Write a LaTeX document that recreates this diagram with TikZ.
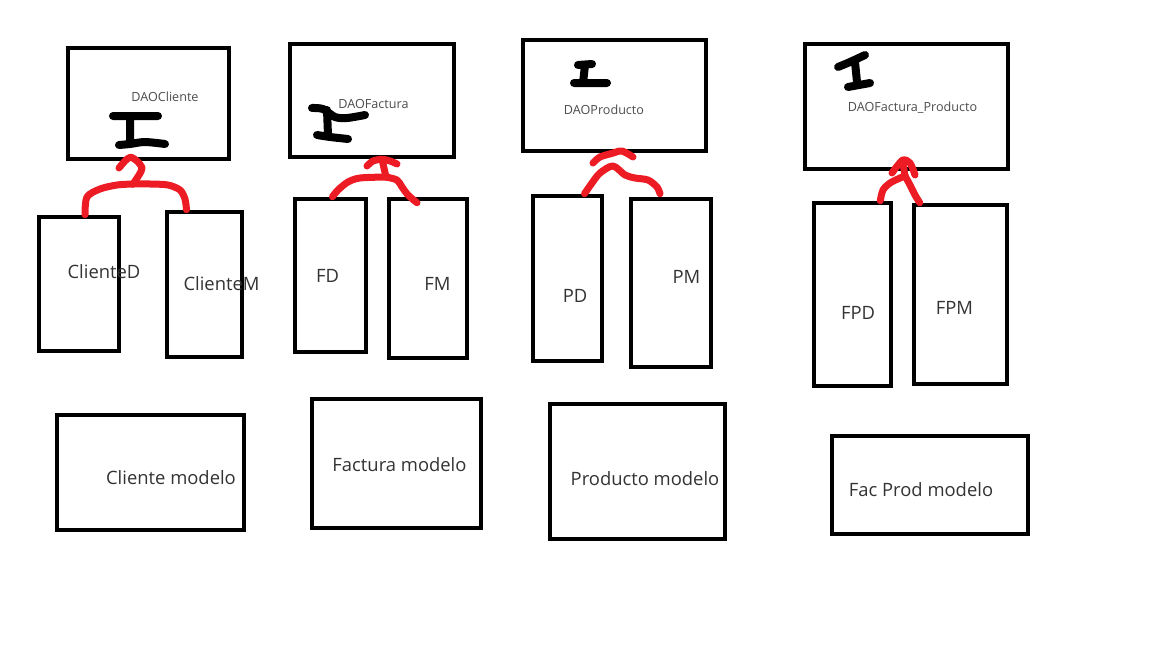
\documentclass[tikz,border=0pt]{standalone}
\usepackage{fontspec}
\setmainfont{Open Sans}
\usetikzlibrary{fit}
\definecolor{paintred}{HTML}{ED1C24}
\begin{document}
\begin{tikzpicture}[x=1pt,y=-1pt,
  box/.style={draw,line width=4.5pt,inner sep=0pt},
  big/.style={anchor=base,text=black!80,font=\fontsize{18.4}{22}\selectfont},
  small/.style={anchor=base,text=black!70,font=\fontsize{12.6}{15}\selectfont},
  scribble/.style={draw=paintred,line width=7pt,line cap=round,line join=round},
  ibar/.style={draw,line width=8pt,line cap=round,line join=round}]
\useasboundingbox (0,0) rectangle (1152,648);
% boxes: DAO row, D/M row, modelo row
\foreach \n/\x/\y/\X/\Y in {daoC/68/48/229/159, daoF/290/44/454/157, daoP/523/40/706/151, daoFP/805/44/1008/169,
  cliD/39/217/119/351, cliM/167/212/242/357, fd/295/199/366/352, fm/389/199/467/358,
  pd/533/196/602/361, pm/631/199/711/367, fpd/814/203/891/386, fpm/914/205/1007/384,
  modC/57/415/244/530, modF/312/399/481/528, modP/550/404/725/539, modFP/832/436/1028/534}
  \node[box,fit={(\x,\y) (\X,\Y)}] (\n) {};
\foreach \n/\x/\y/\t in {daoCl/165/101.5/DAOCliente, daoFl/373.5/108.5/DAOFactura,
  daoPl/604/114.5/DAOProducto, daoFPl/912.5/111.5/DAOFactura\_Producto}
  \node[small] (\n) at (\x,\y) {\t};
\foreach \n/\x/\y/\t in {cliDl/104/278/ClienteD, cliMl/221.5/290/ClienteM, fdl/327.5/282/FD, fml/437.5/290/FM,
  pdl/575/302/PD, pml/686.5/283/PM, fpdl/858/319/FPD, fpml/954.5/314/FPM,
  modCl/171/484/Cliente modelo, modFl/399.5/471/Factura modelo, modPl/645/485/Producto modelo, modFPl/921/496/Fac Prod modelo}
  \node[big] (\n) at (\x,\y) {\t};
% the I marks
\draw[ibar] (113,116) -- (158,116) (130,117) -- (130,144) plot[smooth] coordinates {(119,145) (130,144) (145,142) (165,144)};
\draw[ibar] plot[smooth] coordinates {(312,108) (323,109) (335,117) (347,118) (365,115)} (327,110) -- (328,135)
  plot[smooth] coordinates {(317,135) (330,137) (348,139)};
\draw[ibar] (578,65) -- (592,64) (585,65) -- (583,83) (574,83) -- (607,83);
\draw[ibar] plot[smooth] coordinates {(838,67) (850,62) (865,55)} (855,62) -- (857,82) (848,87) -- (870,83);
% cliente
\coordinate (jC) at (133,184);
\draw[scribble] plot[smooth] coordinates {([xshift=6pt]cliD.north) (87,197) (100,189) (117,185) (jC)};
\draw[scribble] plot[smooth] coordinates {(jC) (150,184) (168,185) (180,190) (185,199) ([xshift=-18pt]cliM.north)};
\draw[scribble] plot[smooth] coordinates {(jC) (139,175) (142,168) (137,161) ([xshift=-18pt,yshift=4pt]daoC.south) (125,161) (119,168)};
% factura
\coordinate (jF) at (386,177);
\draw[scribble] plot[smooth] coordinates {([xshift=2pt]fd.north) (338,190) (348,182) (360,178) (jF)};
\draw[scribble] plot[smooth] coordinates {(jF) (397,180) (402,187) (408,195) ([xshift=-11pt,yshift=-6pt]fm.north)};
\draw[scribble] (jF) -- ([xshift=10pt]daoF.south);
\draw[scribble] plot[smooth] coordinates {(367,166) (373,161) ([xshift=10pt]daoF.south) (390,161) (397,164)};
% producto
\coordinate (jP) at (613,166);
\draw[scribble] plot[smooth] coordinates {([xshift=17pt]pd.north) (592,183) (600,173) (jP) (625,175) (635,178) (648,180) (657,187) ([xshift=-11pt,yshift=3pt]pm.north)};
\draw[scribble] plot[smooth] coordinates {(593,163) (600,157) ([xshift=-2pt]daoP.south) (622,151) (633,157)};
% fac prod
\coordinate (jFP) at (905,176);
\draw[scribble] plot[smooth] coordinates {([xshift=-13pt]fpd.north east) (883,190) (890,183) (900,178) (jFP)};
\draw[scribble] plot[smooth] coordinates {(jFP) (910,185) (915,195) ([xshift=8pt]fpm.north west)};
\draw[scribble] (jFP) -- ([xshift=-4pt,yshift=11pt]daoFP.south);
\draw[scribble] plot[smooth] coordinates {(892,173) ([xshift=-4pt,yshift=11pt]daoFP.south) (910,163) (915,175)};
\end{tikzpicture}
\end{document}
